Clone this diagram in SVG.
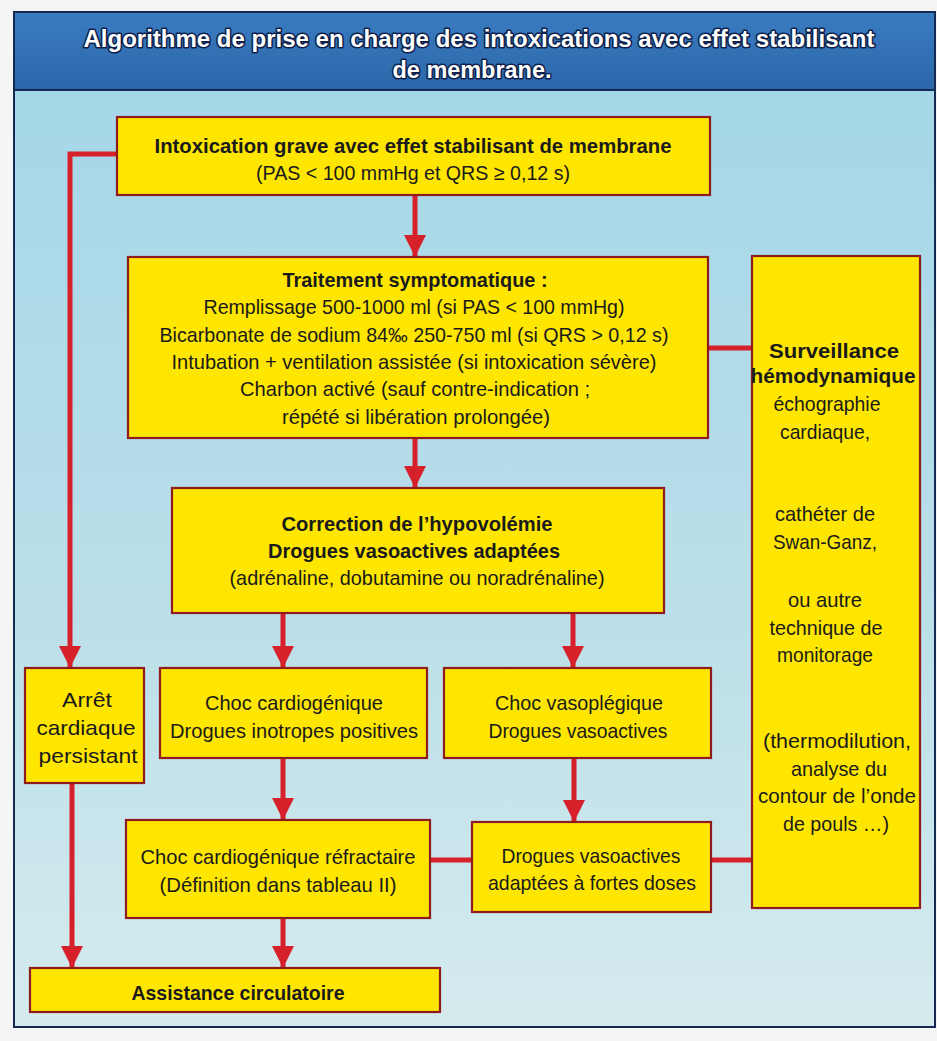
<svg xmlns="http://www.w3.org/2000/svg" width="937" height="1041" viewBox="0 0 937 1041">
<defs>
<linearGradient id="bg" x1="0" y1="0" x2="0" y2="1">
<stop offset="0" stop-color="#a2d6e8"/>
<stop offset="0.6" stop-color="#bbdfe9"/>
<stop offset="1" stop-color="#d5ebee"/>
</linearGradient>
<linearGradient id="tb" x1="0" y1="0" x2="0" y2="1">
<stop offset="0" stop-color="#3a7cc0"/>
<stop offset="1" stop-color="#2c66aa"/>
</linearGradient>
<marker id="ah" markerUnits="userSpaceOnUse" markerWidth="22" markerHeight="22" refX="22" refY="11" orient="auto">
<path d="M0,0 L22,11 L0,22 z" fill="#d6202a"/>
</marker>
<style>
.box{fill:#ffe600;stroke:#8e1c1c;stroke-width:2.2}
.t{font-family:"Liberation Sans",Arial,sans-serif;font-size:21px;fill:#1a1a1a;text-anchor:middle}
.b{font-weight:bold}
.title{font-family:"Liberation Sans",Arial,sans-serif;font-size:23px;font-weight:bold;fill:#ffffff;stroke:#0d1f4a;stroke-width:3;paint-order:stroke;stroke-linejoin:round;text-anchor:middle}
.c{fill:none;stroke:#d6202a;stroke-width:5}
</style>
</defs>
<rect x="0" y="0" width="937" height="1041" fill="#f4f6f6"/>
<rect x="14" y="12" width="921" height="1015" fill="url(#bg)" stroke="#142a55" stroke-width="2"/>
<g id="title">
<rect x="14" y="12" width="921" height="78" fill="url(#tb)" stroke="#142a55" stroke-width="2"/>
<text class="title" x="479" y="47" textLength="791" lengthAdjust="spacingAndGlyphs">Algorithme de prise en charge des intoxications avec effet stabilisant</text>
<text class="title" x="472" y="78" textLength="159" lengthAdjust="spacingAndGlyphs">de membrane.</text>
</g>
<g id="connectors">
<line class="c" x1="415" y1="195" x2="415" y2="257" marker-end="url(#ah)"/>
<path class="c" d="M117,154 H70 V668" marker-end="url(#ah)"/>
<line class="c" x1="708" y1="348" x2="752" y2="348"/>
<line class="c" x1="415" y1="438" x2="415" y2="488" marker-end="url(#ah)"/>
<line class="c" x1="283" y1="613" x2="283" y2="668" marker-end="url(#ah)"/>
<line class="c" x1="573" y1="613" x2="573" y2="668" marker-end="url(#ah)"/>
<line class="c" x1="72" y1="783" x2="72" y2="968" marker-end="url(#ah)"/>
<line class="c" x1="283" y1="758" x2="283" y2="820" marker-end="url(#ah)"/>
<line class="c" x1="574" y1="758" x2="574" y2="822" marker-end="url(#ah)"/>
<line class="c" x1="430" y1="860" x2="472" y2="860"/>
<line class="c" x1="711" y1="860" x2="752" y2="860"/>
<line class="c" x1="283" y1="918" x2="283" y2="968" marker-end="url(#ah)"/>
</g>
<g id="n1">
<rect class="box" x="117" y="117" width="593" height="78"/>
<text class="t b" x="413" y="153" textLength="517" lengthAdjust="spacingAndGlyphs">Intoxication grave avec effet stabilisant de membrane</text>
<text class="t" x="413" y="180" textLength="314" lengthAdjust="spacingAndGlyphs">(PAS &lt; 100 mmHg et QRS ≥ 0,12 s)</text>
</g>
<g id="n2">
<rect class="box" x="128" y="257" width="580" height="181"/>
<text class="t b" x="415" y="287" textLength="265" lengthAdjust="spacingAndGlyphs">Traitement symptomatique :</text>
<text class="t" x="414" y="314" textLength="421" lengthAdjust="spacingAndGlyphs">Remplissage 500-1000 ml (si PAS &lt; 100 mmHg)</text>
<text class="t" x="414" y="342" textLength="509" lengthAdjust="spacingAndGlyphs">Bicarbonate de sodium 84‰ 250-750 ml (si QRS &gt; 0,12 s)</text>
<text class="t" x="414" y="369" textLength="485" lengthAdjust="spacingAndGlyphs">Intubation + ventilation assistée (si intoxication sévère)</text>
<text class="t" x="415" y="396" textLength="350" lengthAdjust="spacingAndGlyphs">Charbon activé (sauf contre-indication ;</text>
<text class="t" x="416" y="424" textLength="268" lengthAdjust="spacingAndGlyphs">répété si libération prolongée)</text>
</g>
<g id="n3">
<rect class="box" x="752" y="256" width="168" height="652"/>
<text class="t b" x="834" y="358" textLength="130" lengthAdjust="spacingAndGlyphs">Surveillance</text>
<text class="t b" x="833" y="383" textLength="165" lengthAdjust="spacingAndGlyphs">hémodynamique</text>
<text class="t" x="827" y="411" textLength="107" lengthAdjust="spacingAndGlyphs">échographie</text>
<text class="t" x="825" y="439" textLength="90" lengthAdjust="spacingAndGlyphs">cardiaque,</text>
<text class="t" x="825" y="521" textLength="100" lengthAdjust="spacingAndGlyphs">cathéter de</text>
<text class="t" x="825" y="549" textLength="104" lengthAdjust="spacingAndGlyphs">Swan-Ganz,</text>
<text class="t" x="825" y="607" textLength="74" lengthAdjust="spacingAndGlyphs">ou autre</text>
<text class="t" x="826" y="635" textLength="113" lengthAdjust="spacingAndGlyphs">technique de</text>
<text class="t" x="825" y="662" textLength="96" lengthAdjust="spacingAndGlyphs">monitorage</text>
<text class="t" x="837" y="748" textLength="148" lengthAdjust="spacingAndGlyphs">(thermodilution,</text>
<text class="t" x="839" y="776" textLength="96" lengthAdjust="spacingAndGlyphs">analyse du</text>
<text class="t" x="837" y="803" textLength="158" lengthAdjust="spacingAndGlyphs">contour de l’onde</text>
<text class="t" x="836" y="831" textLength="106" lengthAdjust="spacingAndGlyphs">de pouls …)</text>
</g>
<g id="n4">
<rect class="box" x="172" y="488" width="492" height="125"/>
<text class="t b" x="417" y="531" textLength="271" lengthAdjust="spacingAndGlyphs">Correction de l’hypovolémie</text>
<text class="t b" x="414" y="558" textLength="292" lengthAdjust="spacingAndGlyphs">Drogues vasoactives adaptées</text>
<text class="t" x="417" y="585" textLength="375" lengthAdjust="spacingAndGlyphs">(adrénaline, dobutamine ou noradrénaline)</text>
</g>
<g id="n5">
<rect class="box" x="25" y="668" width="119" height="115"/>
<text class="t" x="87" y="707" textLength="50" lengthAdjust="spacingAndGlyphs">Arrêt</text>
<text class="t" x="86" y="735" textLength="99" lengthAdjust="spacingAndGlyphs">cardiaque</text>
<text class="t" x="88" y="763" textLength="99" lengthAdjust="spacingAndGlyphs">persistant</text>
</g>
<g id="n6">
<rect class="box" x="160" y="668" width="267" height="90"/>
<text class="t" x="294" y="710" textLength="178" lengthAdjust="spacingAndGlyphs">Choc cardiogénique</text>
<text class="t" x="294" y="738" textLength="248" lengthAdjust="spacingAndGlyphs">Drogues inotropes positives</text>
</g>
<g id="n7">
<rect class="box" x="444" y="668" width="267" height="90"/>
<text class="t" x="579" y="710" textLength="168" lengthAdjust="spacingAndGlyphs">Choc vasoplégique</text>
<text class="t" x="578" y="738" textLength="179" lengthAdjust="spacingAndGlyphs">Drogues vasoactives</text>
</g>
<g id="n8">
<rect class="box" x="126" y="820" width="304" height="98"/>
<text class="t" x="278" y="864" textLength="275" lengthAdjust="spacingAndGlyphs">Choc cardiogénique réfractaire</text>
<text class="t" x="278" y="892" textLength="237" lengthAdjust="spacingAndGlyphs">(Définition dans tableau II)</text>
</g>
<g id="n9">
<rect class="box" x="472" y="822" width="239" height="90"/>
<text class="t" x="591" y="863" textLength="179" lengthAdjust="spacingAndGlyphs">Drogues vasoactives</text>
<text class="t" x="592" y="890" textLength="208" lengthAdjust="spacingAndGlyphs">adaptées à fortes doses</text>
</g>
<g id="n10">
<rect class="box" x="30" y="968" width="410" height="44"/>
<text class="t b" x="238" y="1000" textLength="213" lengthAdjust="spacingAndGlyphs">Assistance circulatoire</text>
</g>
</svg>
